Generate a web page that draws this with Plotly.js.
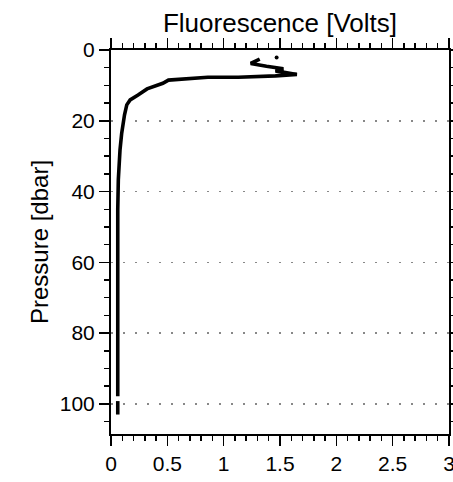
<!DOCTYPE html>
<html>
<head>
<meta charset="utf-8">
<script src="https://cdn.plot.ly/plotly-3.0.1.min.js"></script>
<style>
  html, body { margin: 0; padding: 0; background: #fff; }
  #chart { width: 453px; height: 482px; }
</style>
</head>
<body>
<div id="chart"></div>
<script>
// Fluorescence profile (Volts) vs pressure (dbar); null marks a gap in the trace
const fluorescence = [1.32, 1.24, 1.38, 1.53, 1.46, 1.65, 1.46, 1.13, 0.86, 0.51, 0.46, 0.41, 0.32, 0.24, 0.17, 0.14, 0.12, 0.095, 0.08, 0.065, 0.06, 0.06, 0.065, 0.06, 0.06, null, 0.06, 0.06];
const pressure     = [2.6, 3.8, 4.6, 5.3, 5.9, 6.9, 7.3, 7.7, 7.7, 8.5, 9.4, 9.9, 11.0, 12.7, 14.1, 15.5, 18.3, 23.5, 28.2, 36.7, 45, 62, 80, 90, 97.8, null, 99.2, 103];
// isolated single sample near the surface
const dotFluorescence = [1.47];
const dotPressure = [2.1];

const xTickVals = [0, 0.5, 1, 1.5, 2, 2.5, 3];
const xTickText = ['0', '0.5', '1', '1.5', '2', '2.5', '3'];
const yTickVals = [0, 20, 40, 60, 80, 100];
const yTickText = ['0', '20', '40', '60', '80', '100'];

const font = 'Liberation Sans, Arial, sans-serif';

const traces = [
  {
    x: fluorescence, y: pressure, type: 'scatter', mode: 'lines',
    line: { color: '#000', width: 3.6 }, connectgaps: false, hoverinfo: 'skip', cliponaxis: false
  },
  {
    x: dotFluorescence, y: dotPressure, type: 'scatter', mode: 'markers',
    marker: { color: '#000', size: 4 }, hoverinfo: 'skip'
  }
];

const layout = {
  width: 453, height: 482,
  margin: { l: 111, r: 4, t: 50, b: 48, pad: 0 },
  paper_bgcolor: '#fff', plot_bgcolor: '#fff',
  showlegend: false,
  font: { family: font, color: '#000', size: 21 },
  title: {
    text: 'Fluorescence [Volts]',
    font: { family: font, size: 26, color: '#000' },
    x: 0.5, xref: 'paper', y: 1 - 23 / 482, yref: 'container', yanchor: 'middle'
  },
  xaxis: {
    range: [0, 3], tickvals: xTickVals, ticktext: xTickText,
    ticks: 'outside', ticklen: 10, tickwidth: 1.5, tickcolor: '#000',
    showline: true, linewidth: 2, linecolor: '#000', mirror: 'allticks',
    showgrid: false, zeroline: false, ticklabeloverflow: 'allow',
    tickfont: { family: font, size: 21, color: '#000' },
    minor: { dtick: 0.1, tick0: 0, ticks: 'outside', ticklen: 5, tickwidth: 1.5, tickcolor: '#000', showgrid: false }
  },
  yaxis: {
    range: [108.5, 0], tickvals: yTickVals, ticktext: yTickText,
    ticks: 'outside', ticklen: 10, tickwidth: 1.5, tickcolor: '#000',
    showline: true, linewidth: 2, linecolor: '#000', mirror: 'allticks',
    showgrid: true, gridcolor: '#888', gridwidth: 1.5, griddash: '1.5px,10.5px',
    zeroline: false,
    tickfont: { family: font, size: 21, color: '#000' },
    title: { text: 'Pressure [dbar]', font: { family: font, size: 24, color: '#000' }, standoff: 4 },
    minor: { dtick: 5, tick0: 0, ticks: 'outside', ticklen: 5, tickwidth: 1.5, tickcolor: '#000', showgrid: false }
  }
};

Plotly.newPlot('chart', traces, layout, { staticPlot: true, displayModeBar: false });
</script>
</body>
</html>
